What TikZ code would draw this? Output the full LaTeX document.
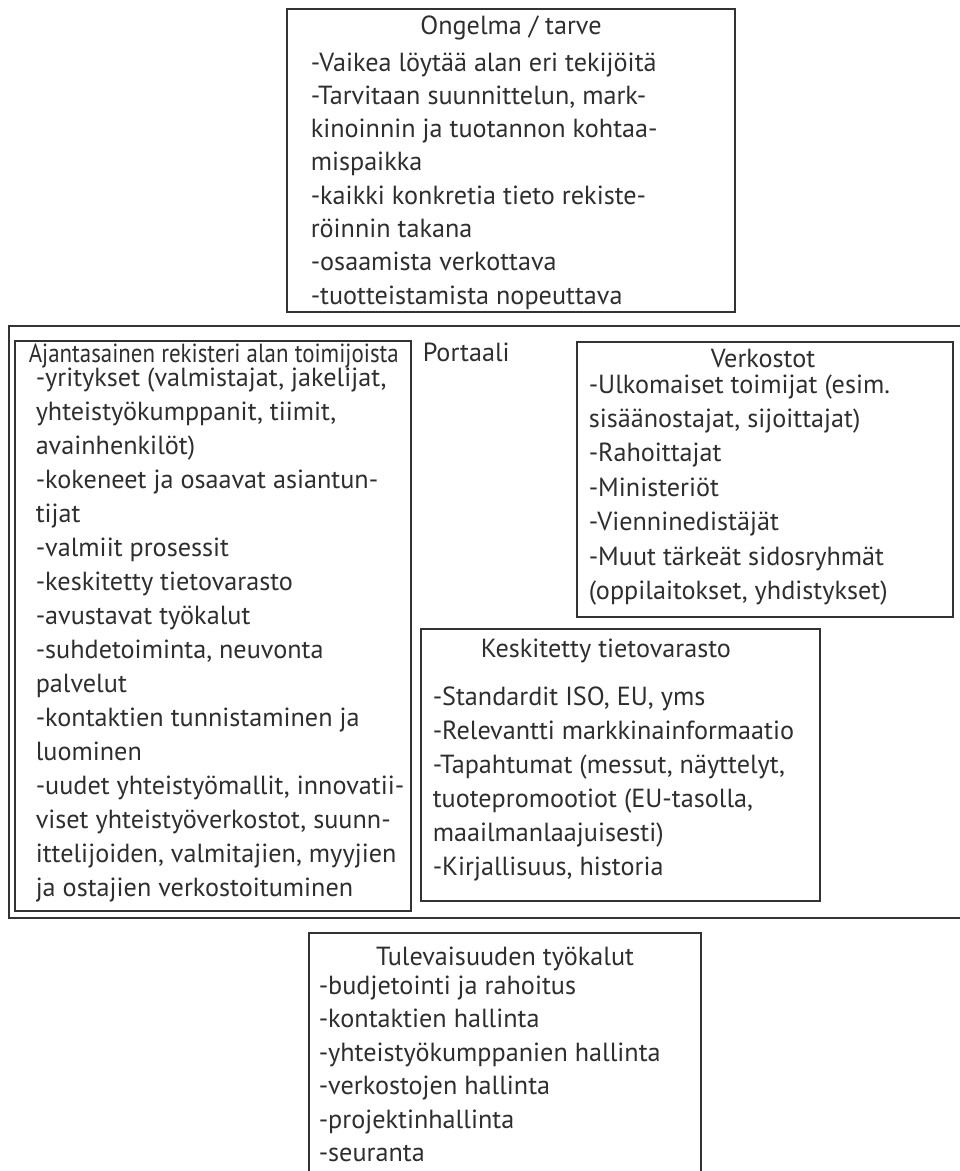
\documentclass[tikz,border=0pt]{standalone}
\usepackage{fontspec}
\setmainfont{PT Sans}
\usepackage{graphicx}
\newcommand{\teksti}{\fontsize{26.2}{33}\selectfont}
\tikzset{every picture/.style={line width=1.5pt,x=1pt,y=-1pt},
  laatikko/.style={draw=black!80},
  rivi/.style={anchor=base west,inner sep=0pt,text=black!82,font=\teksti},
  otsikko/.style={anchor=base,inner sep=0pt,text=black!82,font=\teksti}}

\begin{document}
\begin{tikzpicture}
\useasboundingbox (0,0) rectangle (960,1171);
% ongelma / tarve
\draw[laatikko] (287,9) rectangle (735,312);
\node[otsikko] (ongelma) at (511,34) {Ongelma / tarve};
\foreach \lause [count=\i from 0] in {-Vaikea löytää alan eri tekijöitä,
  {-Tarvitaan suunnittelun, mark-}, kinoinnin ja tuotannon kohtaa-, mispaikka,
  -kaikki konkretia tieto rekiste-, röinnin takana, -osaamista verkottava,
  -tuotteistamista nopeuttava}
  \node[rivi] (ongelma-\i) at (310,71+33.3*\i) {\lause};
% portaali
\draw[laatikko] (975,326) -- (9,326) -- (9,918) -- (975,918);
\node[rivi] (portaali) at (422,361) {Portaali};
% rekisteri
\draw[laatikko] (15,341) rectangle (411,911);
\node[rivi] (rekisteri) at (28,362) {\resizebox{370pt}{\height}{Ajantasainen rekisteri alan toimijoista}};
\foreach \lause [count=\i from 0] in {{-yritykset (valmistajat, jakelijat,},
  {yhteistyökumppanit, tiimit,}, avainhenkilöt), -kokeneet ja osaavat asiantun-,
  tijat, -valmiit prosessit, -keskitetty tietovarasto, -avustavat työkalut,
  {-suhdetoiminta, neuvonta}, palvelut, -kontaktien tunnistaminen ja, luominen,
  {-uudet yhteistyömallit, innovatii-}, {viset yhteistyöverkostot, suunn-},
  {ittelijoiden, valmitajien, myyjien}, ja ostajien verkostoituminen}
  \node[rivi] (rekisteri-\i) at (35,386+34*\i) {\lause};
% verkostot
\draw[laatikko] (577,342) rectangle (953,617);
\node[otsikko] (verkostot) at (763,367) {Verkostot};
\foreach \lause [count=\i from 0] in {-Ulkomaiset toimijat (esim.,
  {sisäänostajat, sijoittajat)}, -Rahoittajat, -Ministeriöt, -Vienninedistäjät,
  -Muut tärkeät sidosryhmät, {(oppilaitokset, yhdistykset)}}
  \node[rivi] (verkostot-\i) at (588,393+34.4*\i) {\lause};
% tietovarasto
\draw[laatikko] (421,629) rectangle (820,901);
\node[rivi] (tietovarasto) at (480,657) {Keskitetty tietovarasto};
\foreach \lause [count=\i from 0] in {{-Standardit ISO, EU, yms},
  -Relevantti markkinainformaatio, {-Tapahtumat (messut, näyttelyt,},
  {tuotepromootiot (EU-tasolla,}, maailmanlaajuisesti), {-Kirjallisuus, historia}}
  \node[rivi] (tietovarasto-\i) at (432,705+34*\i) {\lause};
% tyokalut
\draw[laatikko] (309,1180) -- (309,933) -- (701,933) -- (701,1180);
\node[otsikko] (tyokalut) at (505,965) {Tulevaisuuden työkalut};
\foreach \lause [count=\i from 0] in {-budjetointi ja rahoitus, -kontaktien hallinta,
  -yhteistyökumppanien hallinta, -verkostojen hallinta, -projektinhallinta, -seuranta}
  \node[rivi] (tyokalut-\i) at (318,994+33.5*\i) {\lause};
\end{tikzpicture}
\end{document}
